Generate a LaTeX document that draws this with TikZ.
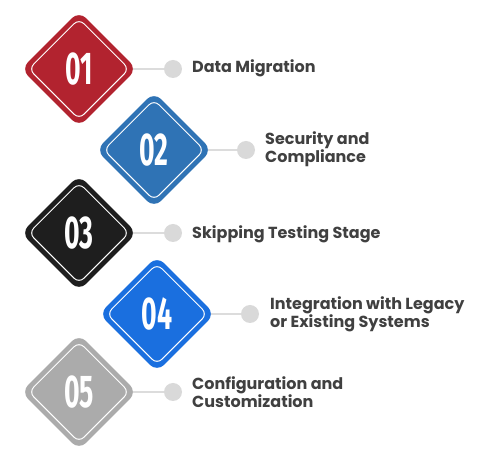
\documentclass[tikz,border=0pt]{standalone}
\usepackage{fontspec}
\setmainfont{Poppins}
\newfontfamily\numfont{Fira Sans}
\definecolor{cred}{HTML}{B2232F}
\definecolor{cblueA}{HTML}{2F73B5}
\definecolor{cblack}{HTML}{1E1E1E}
\definecolor{cblueB}{HTML}{1A6FDF}
\definecolor{cgray}{HTML}{ABABAB}
\definecolor{dotgray}{HTML}{D9D9D9}
\definecolor{linegray}{HTML}{DCDCDC}
\definecolor{txtgray}{HTML}{404040}
\begin{document}
\begin{tikzpicture}[x=1pt,y=-1pt,
  diam/.style={rectangle, rotate=45, minimum size=82pt, rounded corners=10pt, inner sep=0pt},
  innerd/.style={rectangle, rotate=45, minimum size=71pt, rounded corners=7pt, draw=white, line width=1pt, inner sep=0pt},
  num/.style={text=white, inner sep=0pt, font=\numfont\bfseries\fontsize{46}{46}\selectfont},
  dot/.style={circle, fill=dotgray, minimum size=18pt, inner sep=0pt},
  lbl/.style={anchor=west, align=left, text=txtgray, inner sep=0pt, font=\bfseries\fontsize{16}{18}\selectfont},
  link/.style={draw=linegray, line width=2pt}]
\useasboundingbox (0,0) rectangle (483,470);
\foreach \n/\x/\y/\c/\t/\dx/\lx in {
  1/79/69/cred/{01}/173/192,
  2/154/150/cblueA/{02}/246/265,
  3/79/233/cblack/{03}/173/192,
  4/157/314/cblueB/{04}/250/270,
  5/79/392/cgray/{05}/173/192}{
  \coordinate (o\n) at (\x,\y);
  \node[dot] (c\n) at (\dx,\y) {};
  \draw[link] (o\n) -- (c\n);
  \node[diam, fill=\c] (d\n) at (o\n) {};
  \node[innerd] (i\n) at (o\n) {};
  \node[num] (n\n) at (o\n) {\scalebox{0.58}[1]{\t}};
}
\node[lbl] (t1) at (192,68) {Data Migration};
\node[lbl] (t2) at (265,149) {Security and\\Compliance};
\node[lbl] (t3) at (192,234) {Skipping Testing Stage};
\node[lbl] (t4) at (270,314) {Integration with Legacy\\or Existing Systems};
\node[lbl] (t5) at (192,392) {Configuration and\\Customization};
\end{tikzpicture}
\end{document}
